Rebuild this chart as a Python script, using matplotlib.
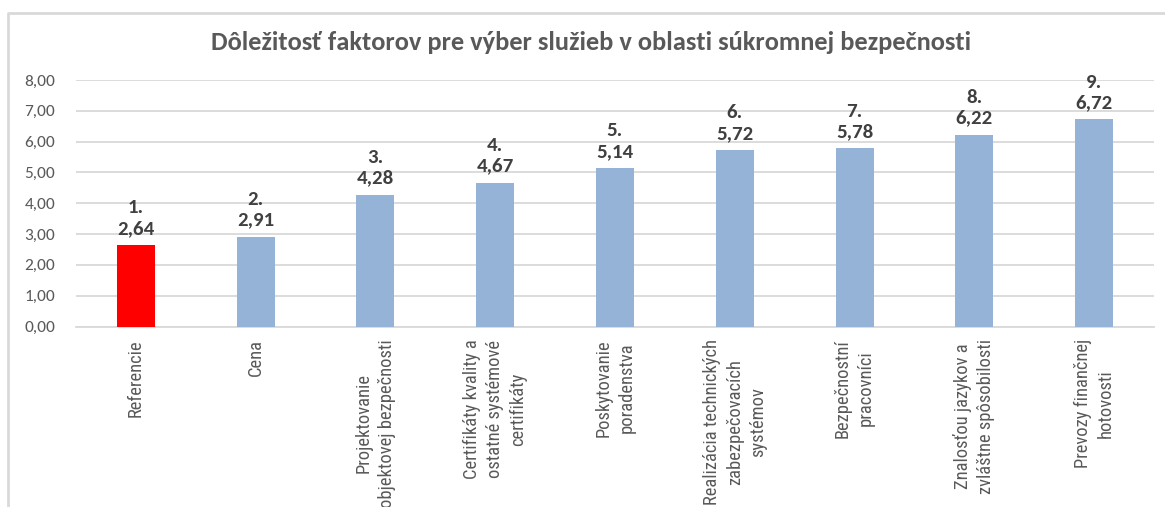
import matplotlib.pyplot as plt
from matplotlib.lines import Line2D

categories = [
    "Referencie",
    "Cena",
    "Projektovanie\nobjektovej bezpečnosti",
    "Certifikáty kvality a\nostatné systémové\ncertifikáty",
    "Poskytovanie\nporadenstva",
    "Realizácia technických\nzabezpečovacích\nsystémov",
    "Bezpečnostní\npracovníci",
    "Znalosťou jazykov a\nzvláštne spôsobilosti",
    "Prevozy finančnej\nhotovosti",
]
values = [2.64, 2.91, 4.28, 4.67, 5.14, 5.72, 5.78, 6.22, 6.72]
ranks = ["1.", "2.", "3.", "4.", "5.", "6.", "7.", "8.", "9."]
yticks = [0, 1, 2, 3, 4, 5, 6, 7, 8]

title = "Dôležitosť faktorov pre výber služieb v oblasti súkromnej bezpečnosti"

W, H = 1165, 507
fig = plt.figure(figsize=(W / 100, H / 100), dpi=100)
ax = fig.add_axes([76 / W, 1 - 326.5 / H, (1154 - 76) / W, (326.5 - 80) / H])

colors = ["#FF0000"] + ["#95B3D7"] * (len(values) - 1)
x = list(range(len(values)))
ax.bar(x, values, width=0.317, color=colors, zorder=3)

ax.set_xlim(-0.5, len(values) - 0.5)
ax.set_ylim(0, 8)
ax.set_yticks(yticks)
ax.set_yticklabels([f"{v:.2f}".replace(".", ",") for v in yticks],
                   fontfamily="Carlito", fontsize=12.5, color="#595959")
ax.grid(axis="y", color="#d9d9d9", linewidth=1.3, zorder=0)
for s in ["top", "right", "left"]:
    ax.spines[s].set_visible(False)
ax.spines["bottom"].set_color("#d9d9d9")
ax.spines["bottom"].set_linewidth(1.3)
ax.tick_params(axis="both", length=0)
ax.tick_params(axis="y", pad=15)

ax.set_xticks(x)
ax.set_xticklabels(categories, rotation=90, ha="center", va="top",
                   multialignment="center", linespacing=1.35,
                   fontfamily="Roboto Condensed", fontsize=13.3, color="#595959")
ax.tick_params(axis="x", pad=9)

for xi, v, r in zip(x, values, ranks):
    ax.annotate(r + "\n" + f"{v:.2f}".replace(".", ","),
                (xi, v), xytext=(0, 6), textcoords="offset points",
                ha="center", va="bottom", fontfamily="Carlito", fontweight="bold",
                fontsize=15, color="#404040", linespacing=1.25)

fig.text(591 / W, 1 - 42 / H, title, ha="center", va="center",
         fontfamily="Carlito", fontweight="bold", fontsize=19, color="#595959")

# chart frame (only left and top edges are in view)
fig.add_artist(Line2D([8 / W, 8 / W, 1.0], [0.0, 1 - 13 / H, 1 - 13 / H],
                      transform=fig.transFigure, color="#d9d9d9", linewidth=2))

fig.savefig("out.png", dpi=100)
